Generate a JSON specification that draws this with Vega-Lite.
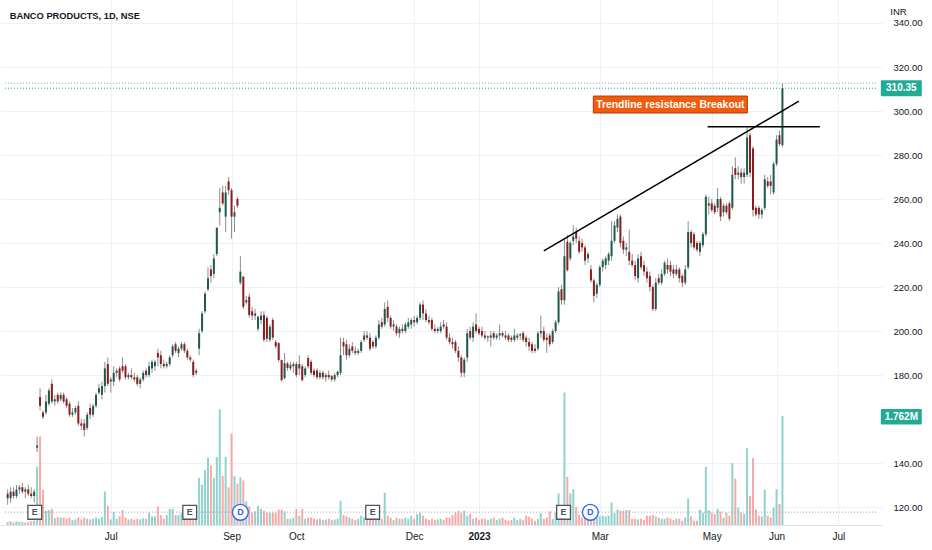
{
"$schema":"https://vega.github.io/schema/vega-lite/v6.json",
"width":882,"height":525,
"autosize":{"type":"none"},
"padding":{"left":0,"top":0,"right":50,"bottom":25},
"background":"#ffffff",
"config":{"view":{"stroke":null},"font":"Liberation Sans",
"axis":{"labelFont":"Liberation Sans","labelFontSize":9.5,"labelColor":"#131722","gridColor":"#eef1f7","gridWidth":1,"ticks":false,"tickSize":0,"domain":false}},
"datasets":{
"candles":[
{"d":-35,"o":126,"h":128,"l":121,"c":124,"v":0.05},{"d":-34,"o":124,"h":129,"l":122,"c":127,"v":0.06},{"d":-33,"o":127,"h":129,"l":124,"c":125,"v":0.04},{"d":-32,"o":125,"h":130,"l":124,"c":128,"v":0.06},{"d":-31,"o":128,"h":130,"l":126,"c":129,"v":0.05},{"d":-30,"o":129,"h":131,"l":126,"c":127,"v":0.05},{"d":-29,"o":127,"h":129,"l":124,"c":128,"v":0.04},{"d":-28,"o":128,"h":130,"l":125,"c":126,"v":0.05},{"d":-27,"o":126,"h":129,"l":124,"c":125,"v":0.06},{"d":-26,"o":125,"h":128,"l":122,"c":127,"v":0.07},
{"d":-25,"o":147,"h":152,"l":145,"c":148,"v":0.94},{"d":-24,"o":170,"h":174,"l":164,"c":166,"v":1.43},{"d":-23,"o":163,"h":164,"l":160,"c":161,"v":0.57},{"d":-22,"o":163,"h":171,"l":162,"c":168,"v":0.23},{"d":-21,"o":167,"h":174,"l":166,"c":173,"v":0.24},{"d":-20,"o":176,"h":178,"l":167,"c":168,"v":0.26},{"d":-19,"o":168,"h":171,"l":166,"c":169,"v":0.11},{"d":-18,"o":171,"h":172,"l":167,"c":168,"v":0.13},{"d":-17,"o":169,"h":172,"l":168,"c":171,"v":0.12},{"d":-16,"o":171,"h":172,"l":167,"c":168,"v":0.12},
{"d":-15,"o":169,"h":170,"l":165,"c":166,"v":0.1},{"d":-14,"o":167,"h":168,"l":161,"c":162,"v":0.12},{"d":-13,"o":162,"h":165,"l":161,"c":163,"v":0.08},{"d":-12,"o":163,"h":166,"l":162,"c":165,"v":0.09},{"d":-11,"o":166,"h":168,"l":157,"c":158,"v":0.12},{"d":-10,"o":158,"h":160,"l":155,"c":157,"v":0.09},{"d":-9,"o":158,"h":160,"l":152,"c":155,"v":0.12},{"d":-8,"o":156,"h":163,"l":155,"c":162,"v":0.1},{"d":-7,"o":165,"h":167,"l":160,"c":162,"v":0.09},{"d":-6,"o":162,"h":167,"l":161,"c":166,"v":0.1},
{"d":-5,"o":166,"h":172,"l":165,"c":171,"v":0.12},{"d":-4,"o":172,"h":176,"l":171,"c":174,"v":0.1},{"d":-3,"o":171,"h":177,"l":169,"c":175,"v":0.13},{"d":-2,"o":175,"h":186,"l":172,"c":183,"v":0.54},{"d":-1,"o":185,"h":188,"l":175,"c":176,"v":0.31},{"d":0,"o":177,"h":179,"l":172,"c":178,"v":0.09},{"d":1,"o":177,"h":184,"l":175,"c":181,"v":0.21},{"d":2,"o":181,"h":183,"l":179,"c":182,"v":0.1},{"d":3,"o":183,"h":184,"l":177,"c":178,"v":0.14},{"d":4,"o":184,"h":188,"l":181,"c":182,"v":0.24},
{"d":5,"o":184,"h":185,"l":178,"c":179,"v":0.12},{"d":6,"o":179,"h":181,"l":178,"c":180,"v":0.09},{"d":7,"o":180,"h":183,"l":178,"c":179,"v":0.1},{"d":8,"o":179,"h":181,"l":177,"c":178,"v":0.08},{"d":9,"o":179,"h":180,"l":175,"c":176,"v":0.1},{"d":10,"o":176,"h":179,"l":174,"c":178,"v":0.09},{"d":11,"o":178,"h":182,"l":177,"c":181,"v":0.11},{"d":12,"o":182,"h":183,"l":179,"c":180,"v":0.1},{"d":13,"o":180,"h":186,"l":179,"c":184,"v":0.2},{"d":14,"o":183,"h":187,"l":181,"c":186,"v":0.14},
{"d":15,"o":184,"h":187,"l":182,"c":186,"v":0.14},{"d":16,"o":190,"h":192,"l":184,"c":188,"v":0.3},{"d":17,"o":189,"h":191,"l":183,"c":185,"v":0.16},{"d":18,"o":185,"h":187,"l":183,"c":184,"v":0.1},{"d":19,"o":184,"h":186,"l":183,"c":185,"v":0.16},{"d":20,"o":185,"h":189,"l":184,"c":188,"v":0.26},{"d":21,"o":189,"h":194,"l":188,"c":193,"v":0.26},{"d":22,"o":194,"h":195,"l":190,"c":191,"v":0.16},{"d":23,"o":190,"h":193,"l":188,"c":192,"v":0.16},{"d":24,"o":192,"h":195,"l":191,"c":194,"v":0.2},
{"d":25,"o":194,"h":195,"l":190,"c":191,"v":0.15},{"d":26,"o":191,"h":192,"l":187,"c":188,"v":0.12},{"d":27,"o":188,"h":189,"l":186,"c":187,"v":0.1},{"d":28,"o":186,"h":187,"l":179,"c":180,"v":0.12},{"d":29,"o":181,"h":183,"l":180,"c":182,"v":0.15},{"d":30,"o":192,"h":201,"l":189,"c":199,"v":0.76},{"d":31,"o":200,"h":209,"l":199,"c":208,"v":0.65},{"d":32,"o":209,"h":218,"l":208,"c":217,"v":0.89},{"d":33,"o":219,"h":229,"l":218,"c":224,"v":1.09},{"d":34,"o":228,"h":230,"l":222,"c":225,"v":0.96},
{"d":35,"o":226,"h":235,"l":224,"c":233,"v":0.76},{"d":36,"o":235,"h":247,"l":234,"c":247,"v":1.1},{"d":37,"o":254,"h":265,"l":248,"c":256,"v":1.87},{"d":38,"o":263,"h":266,"l":257,"c":258,"v":0.79},{"d":39,"o":252,"h":266,"l":245,"c":263,"v":1.1},{"d":40,"o":268,"h":270,"l":262,"c":264,"v":0.61},{"d":41,"o":264,"h":265,"l":242,"c":252,"v":1.48},{"d":42,"o":252,"h":257,"l":245,"c":254,"v":0.79},{"d":43,"o":260,"h":261,"l":256,"c":257,"v":0.67},{"d":44,"o":222,"h":234,"l":221,"c":227,"v":0.77},
{"d":45,"o":224.7,"h":225,"l":210,"c":211,"v":0.72},{"d":46,"o":213,"h":216,"l":212,"c":214,"v":0.38},{"d":47,"o":215.6,"h":217,"l":206,"c":207.3,"v":0.3},{"d":48,"o":209,"h":211,"l":205,"c":207,"v":0.2},{"d":49,"o":207,"h":210,"l":205,"c":208,"v":0.22},{"d":50,"o":201,"h":207,"l":200,"c":206.5,"v":0.31},{"d":51,"o":205,"h":209,"l":203,"c":207,"v":0.26},{"d":52,"o":207.3,"h":209,"l":195,"c":196,"v":0.23},{"d":53,"o":206,"h":207,"l":195,"c":196.5,"v":0.2},{"d":54,"o":196,"h":203,"l":195,"c":202,"v":0.2},
{"d":55,"o":205,"h":206,"l":196,"c":197,"v":0.2},{"d":56,"o":195,"h":196,"l":192,"c":193,"v":0.2},{"d":57,"o":194.5,"h":195,"l":186,"c":186.8,"v":0.25},{"d":58,"o":186.8,"h":187,"l":177,"c":177.7,"v":0.25},{"d":59,"o":178.6,"h":190,"l":178,"c":185.4,"v":0.22},{"d":60,"o":185.3,"h":186,"l":182,"c":183.2,"v":0.1},{"d":61,"o":183,"h":186,"l":182,"c":184.5,"v":0.1},{"d":62,"o":184,"h":186,"l":181,"c":185,"v":0.12},{"d":63,"o":185,"h":186,"l":179,"c":180,"v":0.26},{"d":64,"o":183,"h":189,"l":180,"c":185,"v":0.15},
{"d":65,"o":184,"h":185,"l":177,"c":177.7,"v":0.26},{"d":66,"o":180,"h":184,"l":179,"c":183,"v":0.1},{"d":67,"o":187.7,"h":189,"l":183,"c":184,"v":0.12},{"d":68,"o":186,"h":187,"l":180,"c":181,"v":0.12},{"d":69,"o":182,"h":183,"l":179,"c":180,"v":0.1},{"d":70,"o":182,"h":183,"l":178,"c":179,"v":0.09},{"d":71,"o":179,"h":182,"l":178,"c":181,"v":0.1},{"d":72,"o":181,"h":182,"l":178,"c":179,"v":0.08},{"d":73,"o":179,"h":181,"l":177,"c":180,"v":0.09},{"d":74,"o":180,"h":182,"l":178,"c":179,"v":0.1},
{"d":75,"o":179.5,"h":180,"l":177,"c":178,"v":0.08},{"d":76,"o":178,"h":181,"l":177,"c":180,"v":0.09},{"d":77,"o":180,"h":182,"l":179,"c":181.5,"v":0.1},{"d":78,"o":181,"h":197,"l":180,"c":189,"v":0.39},{"d":79,"o":195,"h":197,"l":189,"c":193,"v":0.16},{"d":80,"o":194,"h":196,"l":187,"c":189,"v":0.14},{"d":81,"o":189,"h":194,"l":188,"c":192,"v":0.12},{"d":82,"o":193,"h":195,"l":190,"c":191,"v":0.1},{"d":83,"o":191,"h":193,"l":189,"c":190,"v":0.08},{"d":84,"o":190,"h":192,"l":189,"c":191,"v":0.1},
{"d":85,"o":191,"h":196,"l":190,"c":195,"v":0.15},{"d":86,"o":196,"h":200,"l":195,"c":198,"v":0.12},{"d":87,"o":198,"h":200,"l":196,"c":197,"v":0.1},{"d":88,"o":197,"h":199,"l":191,"c":192,"v":0.12},{"d":89,"o":195,"h":196,"l":192,"c":193,"v":0.1},{"d":90,"o":193,"h":198,"l":192,"c":197,"v":0.15},{"d":91,"o":197,"h":205,"l":196,"c":203,"v":0.25},{"d":92,"o":204,"h":206,"l":201,"c":202,"v":0.1},{"d":93,"o":203,"h":213,"l":202,"c":210,"v":0.52},{"d":94,"o":211,"h":214,"l":204,"c":206,"v":0.15},
{"d":95,"o":206,"h":207,"l":201,"c":202,"v":0.12},{"d":96,"o":202,"h":205,"l":200,"c":203,"v":0.08},{"d":97,"o":202,"h":203,"l":198,"c":199,"v":0.12},{"d":98,"o":199,"h":202,"l":197,"c":201,"v":0.1},{"d":99,"o":201,"h":203,"l":199,"c":200,"v":0.1},{"d":100,"o":200,"h":204,"l":199,"c":203,"v":0.12},{"d":101,"o":202,"h":206,"l":201,"c":204,"v":0.1},{"d":102,"o":203,"h":206,"l":201,"c":205,"v":0.15},{"d":103,"o":205,"h":207,"l":202,"c":204,"v":0.1},{"d":104,"o":204,"h":207,"l":203,"c":206,"v":0.18},
{"d":105,"o":206,"h":213,"l":205,"c":212,"v":0.2},{"d":106,"o":212,"h":214,"l":205,"c":208,"v":0.15},{"d":107,"o":208,"h":210,"l":204,"c":205,"v":0.1},{"d":108,"o":205,"h":207,"l":203,"c":204,"v":0.08},{"d":109,"o":205,"h":206,"l":200,"c":201,"v":0.1},{"d":110,"o":201,"h":203,"l":199,"c":200,"v":0.08},{"d":111,"o":200,"h":202,"l":199,"c":201,"v":0.09},{"d":112,"o":200,"h":204,"l":199,"c":202,"v":0.1},{"d":113,"o":203,"h":205,"l":201,"c":202,"v":0.08},{"d":114,"o":202,"h":204,"l":196,"c":197,"v":0.12},
{"d":115,"o":197,"h":199,"l":194,"c":195,"v":0.12},{"d":116,"o":195,"h":197,"l":192,"c":194,"v":0.16},{"d":117,"o":195,"h":196,"l":190,"c":191,"v":0.2},{"d":118,"o":191,"h":193,"l":186,"c":188,"v":0.23},{"d":119,"o":188,"h":189,"l":179,"c":181,"v":0.2},{"d":120,"o":181,"h":188,"l":179,"c":187,"v":0.23},{"d":121,"o":188,"h":201,"l":186,"c":199,"v":0.15},{"d":122,"o":200,"h":202,"l":196,"c":197,"v":0.18},{"d":123,"o":197,"h":204,"l":195,"c":202,"v":0.1},{"d":124,"o":203,"h":208,"l":199,"c":200,"v":0.12},
{"d":125,"o":201,"h":202,"l":198,"c":199,"v":0.08},{"d":126,"o":200,"h":202,"l":197,"c":198,"v":0.1},{"d":127,"o":198,"h":200,"l":196,"c":197,"v":0.1},{"d":128,"o":197,"h":198,"l":195,"c":197.6,"v":0.08},{"d":129,"o":197,"h":200,"l":193,"c":198,"v":0.1},{"d":130,"o":199,"h":200,"l":196,"c":197,"v":0.12},{"d":131,"o":197,"h":199,"l":196,"c":198,"v":0.08},{"d":132,"o":198,"h":203,"l":196,"c":199,"v":0.1},{"d":133,"o":199,"h":200,"l":197,"c":198,"v":0.12},{"d":134,"o":198,"h":200,"l":196,"c":197,"v":0.08},
{"d":135,"o":198,"h":199,"l":195,"c":196,"v":0.07},{"d":136,"o":197,"h":198,"l":195,"c":196,"v":0.08},{"d":137,"o":196,"h":201,"l":195,"c":198,"v":0.12},{"d":138,"o":197,"h":199,"l":196,"c":198,"v":0.08},{"d":139,"o":198,"h":199,"l":196,"c":198.6,"v":0.1},{"d":140,"o":199,"h":200,"l":195,"c":196,"v":0.08},{"d":141,"o":197,"h":198,"l":193,"c":195,"v":0.15},{"d":142,"o":195,"h":197,"l":191,"c":193,"v":0.13},{"d":143,"o":194,"h":195,"l":190,"c":191,"v":0.1},{"d":144,"o":192,"h":194,"l":190,"c":191,"v":0.07},
{"d":145,"o":192,"h":200,"l":191,"c":199,"v":0.1},{"d":146,"o":199,"h":207,"l":197,"c":200,"v":0.19},{"d":147,"o":200,"h":202,"l":195,"c":196,"v":0.1},{"d":148,"o":197,"h":199,"l":190,"c":196,"v":0.12},{"d":149,"o":198,"h":199,"l":193,"c":194,"v":0.22},{"d":150,"o":195,"h":201,"l":194,"c":200,"v":0.1},{"d":151,"o":200,"h":205,"l":199,"c":204,"v":0.2},{"d":152,"o":204,"h":220,"l":203,"c":218,"v":0.51},{"d":153,"o":219,"h":221,"l":212,"c":214,"v":0.25},{"d":154,"o":214,"h":242,"l":212,"c":234,"v":2.14},
{"d":155,"o":240.6,"h":243.6,"l":227,"c":227.7,"v":0.78},{"d":156,"o":233,"h":241,"l":232,"c":240,"v":0.51},{"d":157,"o":241,"h":248,"l":239,"c":243,"v":0.58},{"d":158,"o":245,"h":247,"l":240,"c":242,"v":0.29},{"d":159,"o":241,"h":243,"l":235,"c":236,"v":0.17},{"d":160,"o":240,"h":242,"l":236,"c":238,"v":0.12},{"d":161,"o":238,"h":239,"l":230,"c":232,"v":0.15},{"d":162,"o":233,"h":236,"l":231,"c":235,"v":0.1},{"d":163,"o":228,"h":230,"l":222,"c":223,"v":0.08},{"d":164,"o":223,"h":224,"l":213,"c":216,"v":0.15},
{"d":165,"o":217,"h":222,"l":215,"c":221,"v":0.12},{"d":166,"o":221,"h":230,"l":220,"c":229,"v":0.14},{"d":167,"o":229,"h":233,"l":227,"c":232,"v":0.15},{"d":168,"o":230,"h":234,"l":228,"c":233,"v":0.14},{"d":169,"o":232,"h":236,"l":230,"c":235,"v":0.15},{"d":170,"o":234,"h":250,"l":232,"c":241,"v":0.36},{"d":171,"o":241,"h":250,"l":240,"c":248,"v":0.19},{"d":172,"o":247,"h":253,"l":245,"c":251,"v":0.25},{"d":173,"o":252,"h":253,"l":238,"c":240,"v":0.23},{"d":174,"o":241,"h":243,"l":235,"c":237,"v":0.23},
{"d":175,"o":237,"h":240,"l":234,"c":238,"v":0.24},{"d":176,"o":236,"h":246,"l":230,"c":232,"v":0.24},{"d":177,"o":232,"h":235,"l":229,"c":230,"v":0.1},{"d":178,"o":230,"h":232,"l":223,"c":225,"v":0.1},{"d":179,"o":224,"h":235,"l":222,"c":233,"v":0.09},{"d":180,"o":234,"h":236,"l":228,"c":229,"v":0.1},{"d":181,"o":230,"h":232,"l":225,"c":227,"v":0.08},{"d":182,"o":227,"h":229,"l":222,"c":224,"v":0.15},{"d":183,"o":225,"h":227,"l":218,"c":220,"v":0.15},{"d":184,"o":220,"h":221,"l":209,"c":210,"v":0.16},
{"d":185,"o":210,"h":224,"l":209,"c":222,"v":0.14},{"d":186,"o":224,"h":226,"l":221,"c":222,"v":0.12},{"d":187,"o":222,"h":228,"l":221,"c":226,"v":0.1},{"d":188,"o":226,"h":232,"l":225,"c":231,"v":0.1},{"d":189,"o":230,"h":233,"l":226,"c":228,"v":0.12},{"d":190,"o":230,"h":232,"l":225,"c":227,"v":0.1},{"d":191,"o":228,"h":230,"l":224,"c":226,"v":0.08},{"d":192,"o":226,"h":230,"l":225,"c":228,"v":0.1},{"d":193,"o":228,"h":229,"l":222,"c":224,"v":0.1},{"d":194,"o":225,"h":226,"l":220,"c":222,"v":0.07},
{"d":195,"o":222,"h":230,"l":221,"c":228,"v":0.12},{"d":196,"o":229,"h":250,"l":228,"c":245,"v":0.43},{"d":197,"o":245,"h":246,"l":238,"c":240,"v":0.14},{"d":198,"o":244,"h":245,"l":237,"c":238,"v":0.07},{"d":199,"o":240,"h":241,"l":236,"c":237,"v":0.07},{"d":200,"o":236,"h":241,"l":234,"c":240,"v":0.25},{"d":201,"o":239,"h":245,"l":238,"c":244,"v":0.2},{"d":202,"o":244,"h":262,"l":243,"c":261,"v":0.94},{"d":203,"o":257,"h":261,"l":253,"c":258,"v":0.24},{"d":204,"o":258,"h":260,"l":254,"c":255,"v":0.2},
{"d":205,"o":257,"h":258,"l":253,"c":254,"v":0.18},{"d":206,"o":256,"h":265,"l":254,"c":260,"v":0.26},{"d":207,"o":260,"h":261,"l":250,"c":252,"v":0.22},{"d":208,"o":254,"h":258,"l":252,"c":257,"v":0.12},{"d":209,"o":257,"h":258,"l":253,"c":254,"v":0.2},{"d":210,"o":258,"h":259,"l":250,"c":251,"v":0.15},{"d":211,"o":256,"h":275,"l":255,"c":271,"v":1.0},{"d":212,"o":274,"h":279,"l":269,"c":271,"v":0.75},{"d":213,"o":271,"h":275,"l":269,"c":272,"v":0.28},{"d":214,"o":272,"h":274,"l":267,"c":270,"v":0.2},
{"d":215,"o":270,"h":274,"l":267,"c":272,"v":0.18},{"d":216,"o":271,"h":293,"l":270,"c":288,"v":1.24},{"d":217,"o":289,"h":290,"l":270,"c":272,"v":0.47},{"d":218,"o":283,"h":284,"l":252,"c":255,"v":1.08},{"d":219,"o":256,"h":257,"l":252,"c":253,"v":0.25},{"d":220,"o":256,"h":257,"l":251,"c":253,"v":0.15},{"d":221,"o":253,"h":256,"l":251,"c":255,"v":0.14},{"d":222,"o":256,"h":271,"l":255,"c":269,"v":0.57},{"d":223,"o":268,"h":270,"l":265,"c":266,"v":0.15},{"d":224,"o":268,"h":271,"l":262,"c":266,"v":0.12},
{"d":225,"o":263,"h":277,"l":262,"c":276,"v":0.28},{"d":226,"o":276,"h":289,"l":275,"c":287,"v":0.58},{"d":227,"o":289,"h":291,"l":284,"c":285,"v":0.34},{"d":228,"o":284.5,"h":312.6,"l":283.5,"c":310.35,"v":1.762}
],
"hlines":[{"d":-35.9,"d2":260.1,"p":312.6,"k":"hi"},{"d":-35.9,"d2":260.1,"p":310.35,"k":"last"},{"d":-35.9,"d2":260.1,"p":117.7,"k":"hi"}],
"lines":[{"d":147.0,"p":236.4,"d2":233.6,"p2":304.5},{"d":202.6,"p":292.9,"d2":240.7,"p2":292.9}],
"events":[{"d":-25.8,"k":"E"},{"d":26.8,"k":"E"},{"d":88.9,"k":"E"},{"d":153.7,"k":"E"},{"d":44,"k":"D"},{"d":162.8,"k":"D"}]
},
"encoding":{"x":{"field":"d","type":"quantitative","title":null,"scale":{"domain":[-35.9,260.1],"nice":false,"zero":false},
"axis":{"values":[0,41,63,103,125,166,204,226,247],"labelExpr":"datum.value==0?'Jul':datum.value==41?'Sep':datum.value==63?'Oct':datum.value==103?'Dec':datum.value==125?'2023':datum.value==166?'Mar':datum.value==204?'May':datum.value==226?'Jun':'Jul'","labelFontWeight":{"condition":{"test":"datum.value==125","value":"bold"},"value":"normal"},"labelFontSize":10,"labelPadding":6,"labelOverlap":false,"labelFlush":false,"grid":true,"domain":true,"domainColor":"#e0e3eb","ticks":false}}},
"layer":[
{"layer":[
{"data":{"name":"candles"},"mark":{"type":"bar","width":2},"encoding":{"y":{"field":"v","type":"quantitative","title":null,"scale":{"domain":[0,8.48],"nice":false,"zero":true},"axis":null},"color":{"condition":{"test":"datum.c>=datum.o","value":"#92d2cc"},"value":"#f7a9a7"}}},
{"data":{"values":[{"d":261.4,"d2":275.3,"v":1.875,"v2":1.625}]},"mark":{"type":"rect","color":"#22ab94","cornerRadius":1},"encoding":{"x2":{"field":"d2"},"y":{"field":"v","type":"quantitative","title":null,"scale":{"domain":[0,8.48],"nice":false,"zero":true},"axis":null},"y2":{"field":"v2"}}},
{"data":{"values":[{"td":268.35,"v":1.75,"label":"1.762M"}]},"mark":{"type":"text","color":"#ffffff","font":"Liberation Sans","fontWeight":"bold","fontSize":10,"align":"center","baseline":"middle"},"encoding":{"x":{"field":"td","type":"quantitative","title":null},"y":{"field":"v","type":"quantitative","title":null,"scale":{"domain":[0,8.48],"nice":false,"zero":true},"axis":null},"text":{"field":"label"}}}
]},
{"layer":[
{"data":{"name":"hlines"},"mark":{"type":"rule","strokeWidth":1,"strokeDash":[1,2]},"encoding":{"x2":{"field":"d2"},"y":{"field":"p","type":"quantitative","title":null,"scale":{"domain":[111.85,350.45],"nice":false,"zero":false}},"color":{"condition":{"test":"datum.k=='last'","value":"#26a69a"},"value":"#a3a6af"}}},
{"data":{"name":"candles"},"mark":{"type":"rule","color":"#8c8c8c","strokeWidth":1},"encoding":{"y":{"field":"l","type":"quantitative","title":null,"scale":{"domain":[111.85,350.45],"nice":false,"zero":false},"axis":{"orient":"right","values":[120,140,180,200,220,240,260,280,300,320,340],"format":".2f","labelPadding":11,"labelAlign":"left","labelFontSize":9.5,"grid":true,"ticks":false,"domain":false}},"y2":{"field":"h"}}},
{"data":{"name":"candles"},"mark":{"type":"bar","width":2},"encoding":{"y":{"field":"o","type":"quantitative","title":null,"scale":{"domain":[111.85,350.45],"nice":false,"zero":false}},"y2":{"field":"c"},"color":{"condition":{"test":"datum.c>=datum.o","value":"#1d5a4d"},"value":"#8a1d1d"}}},
{"data":{"name":"lines"},"mark":{"type":"rule","color":"#000000","strokeWidth":1.5},"encoding":{"x2":{"field":"d2"},"y":{"field":"p","type":"quantitative","title":null,"scale":{"domain":[111.85,350.45],"nice":false,"zero":false}},"y2":{"field":"p2"}}},
{"data":{"values":[{"d":163.8,"d2":216.1,"p":306.8,"p2":299.1}]},"mark":{"type":"rect","color":"#f25a0c","stroke":"#b83a08","strokeWidth":1},"encoding":{"x2":{"field":"d2"},"y":{"field":"p","type":"quantitative","title":null,"scale":{"domain":[111.85,350.45],"nice":false,"zero":false}},"y2":{"field":"p2"}}},
{"data":{"values":[{"td":189.95,"tp":302.95,"label":"Trendline resistance Breakout"}]},"mark":{"type":"text","color":"#ffffff","font":"Liberation Sans","fontWeight":"bold","fontSize":10.4,"align":"center","baseline":"middle"},"encoding":{"x":{"field":"td","type":"quantitative","title":null},"y":{"field":"tp","type":"quantitative","title":null,"scale":{"domain":[111.85,350.45],"nice":false,"zero":false}},"text":{"field":"label"}}},
{"data":{"values":[{"d":261.4,"d2":275.3,"p":314.0,"p2":306.7}]},"mark":{"type":"rect","color":"#22ab94","cornerRadius":1},"encoding":{"x2":{"field":"d2"},"y":{"field":"p","type":"quantitative","title":null,"scale":{"domain":[111.85,350.45],"nice":false,"zero":false}},"y2":{"field":"p2"}}},
{"data":{"values":[{"td":268.35,"tp":310.35,"label":"310.35"}]},"mark":{"type":"text","color":"#ffffff","font":"Liberation Sans","fontWeight":"bold","fontSize":10,"align":"center","baseline":"middle"},"encoding":{"x":{"field":"td","type":"quantitative","title":null},"y":{"field":"tp","type":"quantitative","title":null,"scale":{"domain":[111.85,350.45],"nice":false,"zero":false}},"text":{"field":"label"}}},
{"data":{"name":"events"},"mark":{"type":"point","filled":true,"fill":"#ffffff","strokeWidth":1.3,"opacity":1},"encoding":{"y":{"datum":117.6,"type":"quantitative","title":null,"scale":{"domain":[111.85,350.45],"nice":false,"zero":false}},"shape":{"condition":{"test":"datum.k=='E'","value":"square"},"value":"circle"},"size":{"condition":{"test":"datum.k=='E'","value":190},"value":250},"stroke":{"condition":{"test":"datum.k=='E'","value":"#50535e"},"value":"#2962ff"}}},
{"data":{"name":"events"},"mark":{"type":"text","font":"Liberation Sans","fontWeight":"bold","fontSize":9,"align":"center","baseline":"middle"},"encoding":{"y":{"datum":117.6,"type":"quantitative","title":null,"scale":{"domain":[111.85,350.45],"nice":false,"zero":false}},"text":{"field":"k"},"color":{"condition":{"test":"datum.k=='E'","value":"#50535e"},"value":"#2962ff"}}},
{"data":{"values":[{"td":-34.3,"tp":343.3,"label":"BANCO PRODUCTS, 1D, NSE"}]},"mark":{"type":"text","color":"#131722","font":"Liberation Sans","fontWeight":"bold","fontSize":9.3,"align":"left","baseline":"middle"},"encoding":{"x":{"field":"td","type":"quantitative","title":null},"y":{"field":"tp","type":"quantitative","title":null,"scale":{"domain":[111.85,350.45],"nice":false,"zero":false}},"text":{"field":"label"}}},
{"data":{"values":[{"td":264.6,"tp":345.0,"label":"INR"}]},"mark":{"type":"text","color":"#131722","font":"Liberation Sans","fontSize":9.5,"align":"left","baseline":"middle"},"encoding":{"x":{"field":"td","type":"quantitative","title":null},"y":{"field":"tp","type":"quantitative","title":null,"scale":{"domain":[111.85,350.45],"nice":false,"zero":false}},"text":{"field":"label"}}}
]}
],
"resolve":{"scale":{"y":"independent"}}
}
